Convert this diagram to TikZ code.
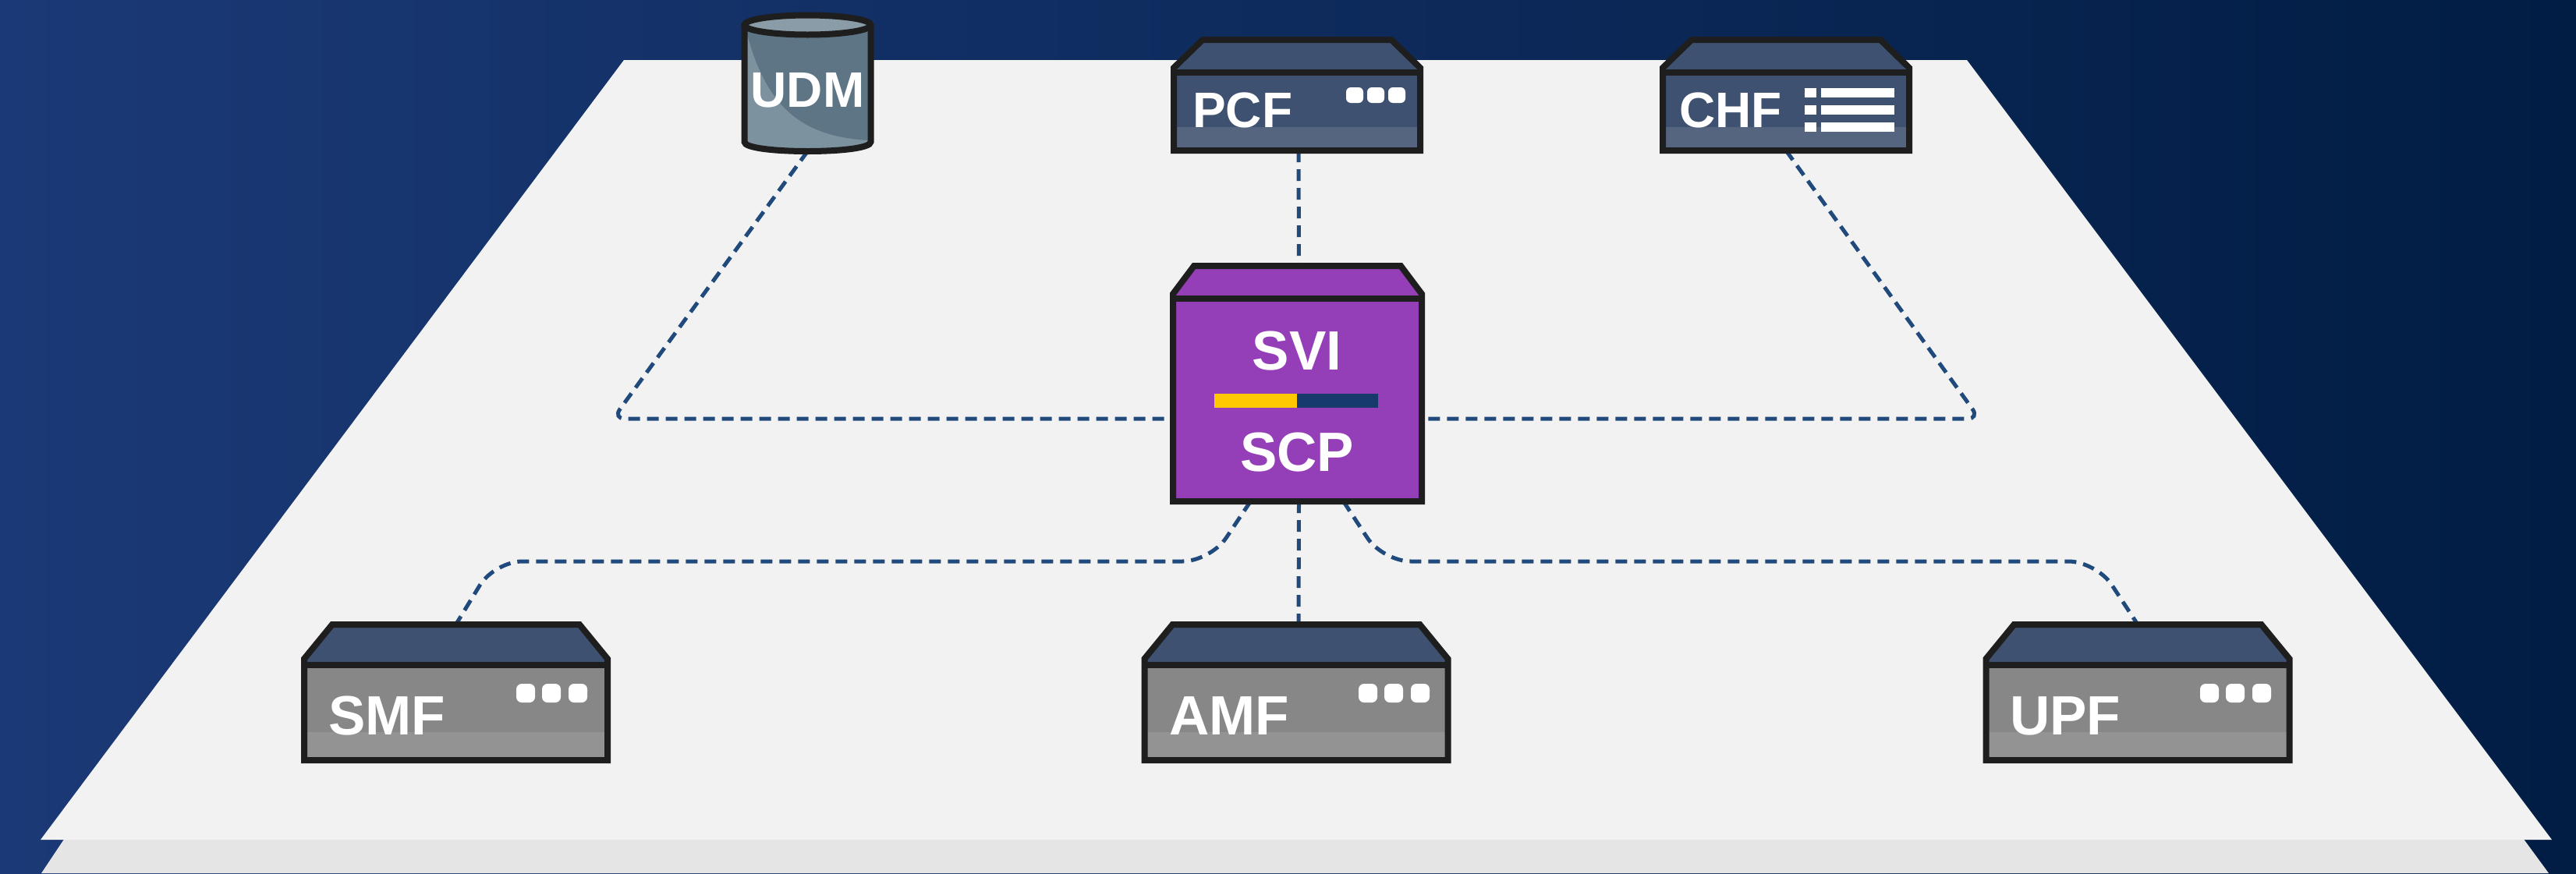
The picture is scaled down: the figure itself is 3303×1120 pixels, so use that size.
\documentclass[tikz,border=0pt]{standalone}
\usepackage{fontspec}
\setmainfont{Liberation Sans}

\definecolor{edge}{HTML}{1E1E1E}
\definecolor{link}{HTML}{214A7C}
\definecolor{slate}{HTML}{3F5170}
\definecolor{slatelight}{HTML}{55647F}
\definecolor{steel}{HTML}{878787}
\definecolor{steellight}{HTML}{939393}
\definecolor{scppurple}{HTML}{943EB8}
\definecolor{drumlight}{HTML}{7D929F}
\definecolor{drumdark}{HTML}{5D7585}
\definecolor{drumlid}{HTML}{8A9CA8}

% box body: node, face, roof, band, chamfer x, chamfer y, roof height, band height
\newcommand{\chassis}[8]{
    \fill [#3] ([yshift = -#7]#1.north west) -- ([yshift = -#6]#1.north west) -- ([xshift = #5]#1.north west) -- ([xshift = -#5]#1.north east) -- ([yshift = -#6]#1.north east) -- ([yshift = -#7]#1.north east) -- cycle;
    \fill [#2] ([yshift = -#7]#1.north west) rectangle (#1.south east);
    \fill [#4] ([yshift = #8]#1.south west) rectangle (#1.south east);
    \draw [outline] (#1.south west) -- ([yshift = -#6]#1.north west) -- ([xshift = #5]#1.north west) -- ([xshift = -#5]#1.north east) -- ([yshift = -#6]#1.north east) -- (#1.south east) -- cycle;
    \draw [outline] ([yshift = -#7]#1.north west) -- ([yshift = -#7]#1.north east);
}

\begin{document}
\begin{tikzpicture} [
    x = 1pt, y = -1pt,
    outline/.style = {draw = edge, line width = 8pt, line join = miter},
    anchorbox/.style = {rectangle, inner sep = 0pt, outer sep = 0pt},
    smallbox/.style = {anchorbox, minimum width = 316pt, minimum height = 142pt},
    bigbox/.style = {anchorbox, minimum width = 389pt, minimum height = 174pt},
    tag/.style = {text = white, inner sep = 0pt, anchor = base west, font = \bfseries\fontsize{64}{70}\selectfont},
    bigtag/.style = {tag, font = \bfseries\fontsize{71}{78}\selectfont},
    wire/.style = {draw = link, line width = 5pt, dash pattern = on 15pt off 9pt},
    bentwire/.style = {wire, rounded corners = 15pt},
    curvewire/.style = {wire, rounded corners = 36pt}
]

% backdrop and platform
\shade [left color = {rgb,255:red,27;green,57;blue,118}, middle color = {rgb,255:red,17;green,48;blue,106}, right color = {rgb,255:red,1;green,29;blue,68}] (0,0) rectangle (3303,1120);
\fill [gray!20] (83,1075) -- (3235,1075) -- (3268,1120) -- (53,1120) -- cycle;
\fill [white!95!black] (800,77) -- (2522,77) -- (3272,1077) -- (52,1077) -- cycle;

% nodes
\node (PCF) at (1663,122) [smallbox] {};
\node (CHF) at (2290,122) [smallbox] {};
\node (SMF) at (584.5,888) [bigbox] {};
\node (AMF) at (1662,888) [bigbox] {};
\node (UPF) at (2741,888) [bigbox] {};
\node (SCP) at (1663.5,492) [anchorbox, minimum width = 319pt, minimum height = 302pt] {};
\node (UDM) at (1035.5,108) [anchorbox, minimum width = 162pt, minimum height = 172pt] {};

% connectors
\coordinate (bendL) at (786,537);
\coordinate (bendR) at (2538,537);
\coordinate (railA) at (1552,720);
\coordinate (railB) at (634,720);
\coordinate (railC) at (1773,720);
\coordinate (railD) at (2688,720);
\draw [wire] ([xshift = 2pt]PCF.south) -- ([xshift = 2pt]SCP.north);
\draw [wire] ([xshift = 2pt]SCP.south) -- ([xshift = 3pt]AMF.north);
\draw [bentwire] (UDM.south) -- (bendL) -- (SCP.west |- bendL);
\draw [bentwire] (CHF.south) -- (bendR) -- (SCP.east |- bendR);
\draw [curvewire] ([xshift = -60pt]SCP.south) -- (railA) -- (railB) -- (SMF.north);
\draw [curvewire] ([xshift = 59pt]SCP.south) -- (railC) -- (railD) -- (UPF.north);

% box bodies
\chassis{PCF}{slate}{slate}{slatelight}{37pt}{36pt}{42pt}{30pt}
\chassis{CHF}{slate}{slate}{slatelight}{37pt}{36pt}{42pt}{30pt}
\chassis{SMF}{steel}{slate}{steellight}{36pt}{44pt}{52pt}{36pt}
\chassis{AMF}{steel}{slate}{steellight}{36pt}{44pt}{52pt}{36pt}
\chassis{UPF}{steel}{slate}{steellight}{36pt}{44pt}{52pt}{36pt}
\chassis{SCP}{scppurple}{scppurple}{scppurple}{27pt}{36pt}{42pt}{0pt}

% database drum
\fill [drumlight] (954.5,32) -- (954.5,182) .. controls (954.5,198) and (1116.5,198) .. (1116.5,182) -- (1116.5,32) -- cycle;
\fill [drumdark] (957,40) -- (1113,40) -- (1113,180) .. controls (1040,175) and (985,150) .. (957,40) -- cycle;
\draw [outline] (954.5,32) -- (954.5,182) .. controls (954.5,198) and (1116.5,198) .. (1116.5,182) -- (1116.5,32);
\draw [outline, fill = drumlid] (1035.5,32) ellipse [x radius = 81, y radius = 12.5];

% labels
\node (PCFname) at (1529,163) [tag] {PCF};
\node (CHFname) at (2153,163) [tag] {CHF};
\node (SMFname) at (421,942) [bigtag] {SMF};
\node (AMFname) at (1499,942) [bigtag] {AMF};
\node (UPFname) at (2577,942) [bigtag] {UPF};
\node (UDMname) at (1035.5,137) [tag, anchor = base] {UDM};
\node (SVIname) at (1663,474) [bigtag, anchor = base] {SVI};
\node (SCPname) at (1663,604) [bigtag, anchor = base] {SCP};

% bar between the two names
\fill [fill = {rgb,255:red,255;green,200;blue,0}] (1557,505) rectangle (1663,523);
\fill [fill = {rgb,255:red,22;green,58;blue,107}] (1663,505) rectangle (1767,523);

% status dots
\foreach \dotx in {1726,1753,1780}
    \fill [white, rounded corners = 6pt] (\dotx,112) rectangle ++(22,20);
\foreach \dotx in {662,1742,2821}
    \foreach \gap in {0,33,67}
        \fill [white, rounded corners = 7pt] (\dotx+\gap,877) rectangle ++(24,24);

% list icon
\foreach \rowy in {113,135,157} {
    \fill [white] (2314,\rowy) rectangle ++(15,12);
    \fill [white] (2335,\rowy) rectangle ++(94,12);
}

\end{tikzpicture}
\end{document}
